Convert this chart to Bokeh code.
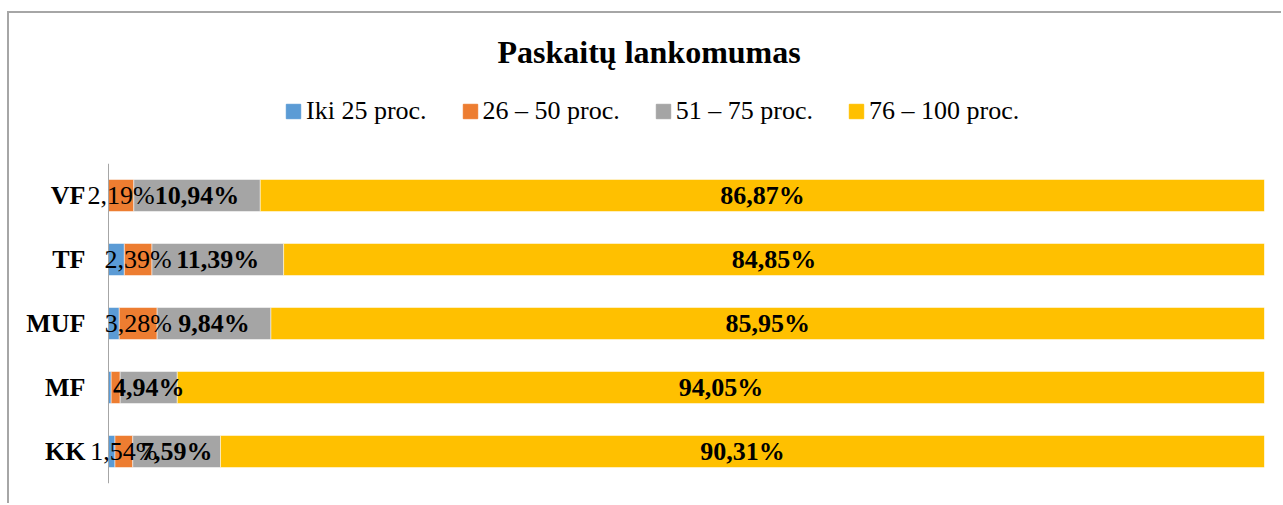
from bokeh.plotting import figure
from bokeh.layouts import column
from bokeh.models import (ColumnDataSource, FactorRange, Range1d, Legend, LegendItem, LabelSet,
                          Title, Span)
from bokeh.embed import file_html
from bokeh.resources import INLINE

categories = ["KK", "MF", "MUF", "TF", "VF"]
series_names = ["Iki 25 proc.", "26 – 50 proc.", "51 – 75 proc.", "76 – 100 proc."]
iki25 = [0.56, 0.23, 0.93, 1.37, 0.00]
p26_50 = [1.54, 0.78, 3.28, 2.39, 2.19]
p51_75 = [7.59, 4.94, 9.84, 11.39, 10.94]
p76_100 = [90.31, 94.05, 85.95, 84.85, 86.87]
orange_label_cats = ["KK", "MUF", "TF", "VF"]
title_text = "Paskaitų lankomumas"

colors = ["#5B9BD5", "#ED7D31", "#A5A5A5", "#FFC000"]
FONT = "Liberation Serif"
W = 1272

src = ColumnDataSource(dict(cat=categories, s0=iki25, s1=p26_50, s2=p51_75, s3=p76_100))
stackers = ["s0", "s1", "s2", "s3"]

# value 0 at page x 108, 100 at page x 1264; frame starts at page x 20
px_per_unit = 1156 / 100.0
x_range = Range1d(-(108 - 20) / px_per_unit, 100)
cat_label_x = -(108 - 85) / px_per_unit

# ---------------- header: title + legend ----------------
head = figure(width=W, height=150, x_range=x_range, y_range=FactorRange(factors=categories),
              output_backend="svg", toolbar_location=None,
              min_border_left=11, min_border_right=17, min_border_top=0, min_border_bottom=0)
head.outline_line_color = None
head.xaxis.visible = False
head.yaxis.visible = False
head.xgrid.visible = False
head.ygrid.visible = False
head.title = Title(text=title_text, align="left", offset=464, text_font=FONT, padding=13,
                   text_font_style="bold", text_font_size="32px", text_color="black")

key_rs = head.hbar_stack(stackers, y="cat", height=0.5, color=colors, source=src)
for r in key_rs:
    r.visible = False
legend = Legend(items=[LegendItem(label=n, renderers=[r]) for n, r in zip(series_names, key_rs)],
                orientation="horizontal", location=(264, 37), padding=0, margin=0,
                glyph_width=18, glyph_height=18, label_standoff=4, spacing=34,
                inactive_fill_alpha=0,
                label_text_font=FONT, label_text_font_size="26px", label_text_color="black",
                border_line_color=None, background_fill_alpha=0)
head.add_layout(legend, "center")

# ---------------- main bar chart ----------------
p = figure(width=W, height=340, y_range=FactorRange(factors=categories), x_range=x_range,
           output_backend="svg", toolbar_location=None,
           min_border_left=11, min_border_right=17, min_border_top=0, min_border_bottom=20)
p.outline_line_color = None
p.xgrid.visible = False
p.ygrid.visible = False
p.xaxis.visible = False
p.yaxis.visible = False

p.add_layout(Span(location=0, dimension="height", line_color="#a6a6a6", line_width=1))

rs = p.hbar_stack(stackers, y="cat", height=0.5, color=colors, source=src,
                  line_color="white", line_width=0.5)

csrc = ColumnDataSource(dict(x=[cat_label_x] * len(categories), y=categories, t=categories))
p.add_layout(LabelSet(x="x", y="y", text="t", source=csrc, text_align="right",
                      text_baseline="middle", text_font=FONT, text_font_style="bold",
                      text_font_size="26px", text_color="black"))

def centers(idx):
    out = []
    for i in range(len(categories)):
        vals = [iki25[i], p26_50[i], p51_75[i], p76_100[i]]
        start = sum(vals[:idx])
        out.append(start + vals[idx] / 2)
    return out

def fmt(v):
    return ("%.2f" % v).replace(".", ",") + "%"

c1 = centers(1)
osrc = ColumnDataSource(dict(
    x=[c1[categories.index(c)] for c in orange_label_cats],
    y=orange_label_cats,
    t=[fmt(p26_50[categories.index(c)]) for c in orange_label_cats]))
gsrc = ColumnDataSource(dict(x=centers(2), y=categories, t=[fmt(v) for v in p51_75]))
ysrc = ColumnDataSource(dict(x=centers(3), y=categories, t=[fmt(v) for v in p76_100]))

for s, style in [(osrc, "normal"), (gsrc, "bold"), (ysrc, "bold")]:
    p.add_layout(LabelSet(x="x", y="y", text="t", source=s, text_align="center",
                          text_baseline="middle", text_font=FONT, text_font_style=style,
                          text_font_size="26px", text_color="black"))

layout = column(head, p, spacing=0,
                styles={"border-left": "2px solid #a6a6a6",
                        "box-shadow": "0 -2px 0 0 #a6a6a6",
                        "margin-left": "7px", "margin-top": "13px"})

open("out.html", "w").write(file_html(layout, INLINE))
